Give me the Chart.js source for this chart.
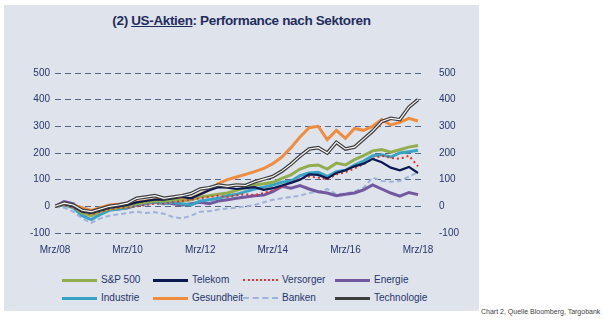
<!DOCTYPE html>
<html>
<head>
<meta charset="utf-8">
<script src="https://cdn.jsdelivr.net/npm/chart.js@4/dist/chart.umd.min.js"></script>
<style>
  body { margin: 0; background: #fff; width: 611px; height: 322px; overflow: hidden; position: relative;
         font-family: "Liberation Sans", Arial, sans-serif; }
  #panel { position: absolute; left: 4px; top: 5px; width: 475px; height: 306px; background: #dfe3ec; }
  #title { position: absolute; left: 4px; width: 475px; top: 13px; text-align: center;
           font-size: 13.5px; font-weight: bold; color: #1f2d5c; letter-spacing: -0.35px; }
  #wrap { position: absolute; left: 4px; top: 59px; width: 470px; height: 201px; }
  #legend { position: absolute; left: 0; top: 0; }
  .item { position: absolute; height: 12px; font-size: 10px; color: #27366a; line-height: 12px; white-space: nowrap; }
  .swatch { position: absolute; left: 0; top: 5px; width: 35px; }
  .item span { position: absolute; left: 39px; top: 0; }
  #note { position: absolute; left: 481px; top: 308px; font-size: 7px; color: #444; white-space: nowrap; }
</style>
</head>
<body>
<div id="panel"></div>
<div id="title">(2) <u>US-Aktien</u>: Performance nach Sektoren</div>
<div id="wrap"><canvas id="chart"></canvas></div>
<div id="legend"></div>
<div id="note">Chart 2, Quelle Bloomberg, Targobank</div>
<script>
// quarterly points, Mrz/08 .. Mrz/18
var quarters = [];
var monthNames = ["Mrz", "Jun", "Sep", "Dez"];
for (var yr = 8; yr <= 18; yr++) {
    for (var q = 0; q < 4; q++) {
        if (yr === 18 && q > 0) break;
        quarters.push(monthNames[q] + "/" + (yr < 10 ? "0" + yr : yr));
    }
}
var tickLabels = ["Mrz/08", "Mrz/10", "Mrz/12", "Mrz/14", "Mrz/16", "Mrz/18"];

var sp500      = [0, 8, 0, -25, -35, -20, -10, -5, 0, 10, 15, 20, 20, 25, 20, 25, 35, 40, 45, 50, 60, 70, 80, 85, 90, 105, 118, 140, 152, 155, 140, 162, 155, 175, 190, 208, 213, 203, 212, 222, 228];
var telekom    = [0, 10, 0, -20, -25, -15, -5, 0, 5, 15, 20, 25, 25, 30, 35, 30, 45, 60, 72, 70, 65, 68, 72, 62, 68, 78, 88, 100, 120, 118, 105, 125, 135, 150, 160, 178, 165, 145, 135, 148, 125];
var versorger  = [0, 5, -5, -20, -30, -20, -10, -5, -5, 0, 5, 10, 10, 15, 20, 25, 30, 35, 40, 35, 42, 45, 42, 50, 60, 72, 90, 102, 112, 108, 100, 120, 128, 142, 158, 178, 190, 182, 178, 190, 150];
var energie    = [0, 18, 10, -20, -30, -20, -10, -10, -5, 5, 10, 20, 15, 10, 5, 10, 15, 10, 20, 25, 30, 35, 40, 42, 55, 75, 68, 78, 65, 55, 50, 40, 45, 50, 62, 80, 65, 50, 38, 52, 44];
var industrie  = [0, 5, -5, -35, -50, -30, -15, -10, -5, 5, 10, 15, 10, 15, 10, 5, 20, 25, 30, 40, 45, 55, 65, 72, 80, 90, 95, 115, 125, 128, 112, 130, 135, 155, 170, 190, 193, 185, 200, 205, 210];
var gesundheit = [0, 8, 5, -5, -15, -5, 5, 8, 10, 15, 20, 25, 25, 30, 25, 30, 45, 62, 85, 100, 110, 120, 130, 142, 160, 185, 220, 260, 295, 300, 250, 285, 255, 292, 285, 300, 325, 305, 315, 330, 320];
var banken     = [0, -5, -20, -45, -62, -45, -35, -30, -25, -20, -25, -22, -28, -40, -45, -35, -20, -18, -12, -8, -5, 0, 5, 15, 25, 30, 35, 40, 50, 55, 65, 45, 48, 55, 70, 108, 95, 92, 95, 112, 128];
var technologie= [0, 12, 5, -15, -20, -10, 0, 5, 12, 30, 35, 40, 30, 35, 40, 48, 65, 70, 80, 75, 80, 78, 92, 102, 112, 132, 158, 188, 215, 220, 200, 240, 215, 222, 252, 282, 318, 330, 325, 372, 400];

var series = [
    { label: "S&P 500",     data: sp500,       color: "#92ad4e", width: 3,   dash: [],     order: 4 },
    { label: "Telekom",     data: telekom,     color: "#0c1850", width: 2.2, dash: [],     order: 2 },
    { label: "Versorger",   data: versorger,   color: "#e2302b", width: 2,   dash: [2, 3], order: 3 },
    { label: "Energie",     data: energie,     color: "#7158a0", width: 3,   dash: [],     order: 7 },
    { label: "Industrie",   data: industrie,   color: "#38a3c4", width: 3,   dash: [],     order: 5 },
    { label: "Gesundheit",  data: gesundheit,  color: "#f08c3e", width: 3,   dash: [],     order: 6 },
    { label: "Banken",      data: banken,      color: "#9fb2d8", width: 2,   dash: [5, 3], order: 8 },
    { label: "Technologie", data: technologie, color: "#3e3e3e", width: 3.6, dash: [],     order: 1 }
];

function toXY(arr) {
    return arr.map(function (v, i) { return { x: i, y: v }; });
}

var datasets = series.map(function (s) {
    return {
        label: s.label,
        data: toXY(s.data),
        borderColor: s.color,
        borderWidth: s.width,
        borderDash: s.dash,
        pointRadius: 0,
        tension: 0,
        fill: false,
        order: s.order
    };
});
// white core of the technology double line
datasets.push({
    label: "Technologie-innen",
    data: toXY(technologie),
    borderColor: "#ffffff",
    borderWidth: 1.1,
    pointRadius: 0,
    tension: 0,
    fill: false,
    order: 0
});

var tickFont = { family: "'Liberation Sans', Arial, sans-serif", size: 10 };
var gridColor = "#56658a";

new Chart(document.getElementById("chart"), {
    type: "line",
    data: { datasets: datasets },
    options: {
        responsive: true,
        maintainAspectRatio: false,
        animation: false,
        layout: { padding: { top: 11, left: 0, right: 0, bottom: 0 } },
        plugins: { legend: { display: false }, tooltip: { enabled: false } },
        scales: {
            x: {
                type: "linear",
                min: 0,
                max: 40.55,
                grid: { display: false },
                border: { display: false },
                ticks: {
                    stepSize: 8,
                    autoSkip: false,
                    includeBounds: false,
                    color: "#27366a",
                    font: tickFont,
                    padding: 3,
                    maxRotation: 0,
                    callback: function (v) { return v % 8 === 0 ? tickLabels[v / 8] : ""; }
                },
                afterFit: function (s) { s.height = 27; }
            },
            y: {
                position: "left",
                min: -100,
                max: 500,
                grid: { color: gridColor, lineWidth: 1, drawTicks: false },
                border: { display: false, dash: [6, 4] },
                ticks: { stepSize: 100, color: "#27366a", font: tickFont, padding: 5 },
                afterFit: function (s) { s.width = 51; }
            },
            y2: {
                position: "right",
                min: -100,
                max: 500,
                grid: { display: false },
                border: { display: false },
                ticks: { stepSize: 100, color: "#27366a", font: tickFont, padding: 8 },
                afterFit: function (s) { s.width = 51; }
            }
        }
    }
});

// legend in four columns, two rows
var legendPos = [
    [62, 274], [153, 274], [243, 274], [335, 274],
    [62, 292], [153, 292], [243, 292], [335, 292]
];
var legendOrder = ["S&P 500", "Telekom", "Versorger", "Energie", "Industrie", "Gesundheit", "Banken", "Technologie"];
var legend = document.getElementById("legend");
legendOrder.forEach(function (name, k) {
    var s = series.filter(function (d) { return d.label === name; })[0];
    var item = document.createElement("div");
    item.className = "item";
    item.style.left = legendPos[k][0] + "px";
    item.style.top = legendPos[k][1] + "px";
    var sw = document.createElement("div");
    sw.className = "swatch";
    var style = s.dash.length ? (s.dash[0] < 3 ? "dotted" : "dashed") : "solid";
    sw.style.borderTop = (s.dash.length ? 2 : 3) + "px " + style + " " + s.color;
    var txt = document.createElement("span");
    txt.textContent = name;
    item.appendChild(sw);
    item.appendChild(txt);
    legend.appendChild(item);
});
</script>
</body>
</html>
